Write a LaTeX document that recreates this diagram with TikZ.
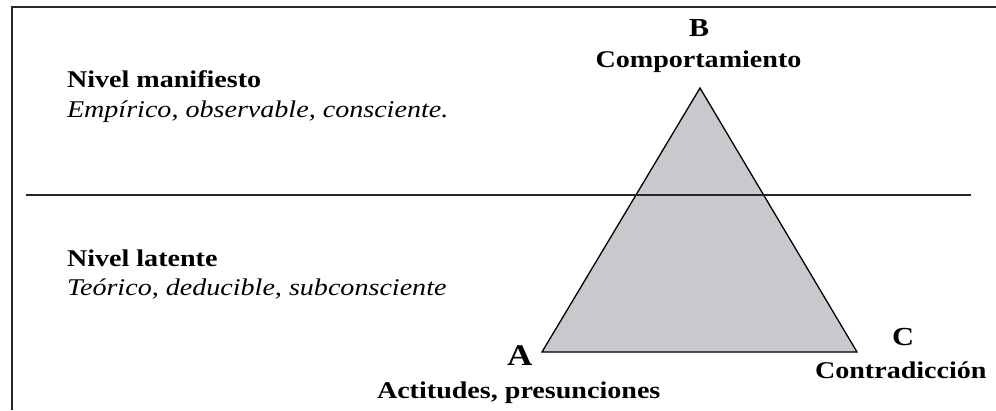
\documentclass[tikz,border=0pt]{standalone}
\usepackage{fontspec}
\setmainfont[FakeStretch=1.17]{Liberation Serif}
\usepackage{tikz}
\usetikzlibrary{positioning}
\definecolor{trifill}{RGB}{200,201,204}
\definecolor{linegray}{RGB}{40,40,40}

\begin{document}
\begin{tikzpicture} [
		x=1pt, y=1pt,
		every node/.style={inner sep=0pt, outer sep=0pt, anchor=base west,
			font=\fontsize{24}{28}\selectfont},
		level/.style={font=\fontsize{24}{28}\selectfont\bfseries},
		levdesc/.style={font=\fontsize{24}{28}\selectfont\itshape},
		vlabel/.style={font=\fontsize{24}{28}\selectfont\bfseries},
		vletter/.style={font=\fontsize{26}{30}\selectfont\bfseries},
		bigletter/.style={font=\fontsize{30}{34}\selectfont\bfseries},
		frame/.style={draw=linegray, line width=1.2pt},
		tri/.style={draw=black, fill=trifill, line width=1.3pt, line join=miter},
		divide/.style={draw=black!85, line width=1.6pt}
	]
	\useasboundingbox (0,0) rectangle (996,410);
	\path [frame] (12,0) -- (12,403) -- (996,403);

	\coordinate (va) at (542,58);
	\coordinate (vb) at (700,322);
	\coordinate (vc) at (857,58);
	\path [tri] (va) -- (vb) -- (vc) -- cycle;

	\coordinate (divl) at (26,215);
	\coordinate (divr) at (971,215);
	\path [divide] (divl) -- (divr);

	\node (man) [level] at (67,322) {Nivel manifiesto};
	\node (mandesc) [levdesc] at (67,292) {Empírico, observable, consciente.};
	\node (lat) [level] at (67,143) {Nivel latente};
	\node (latdesc) [levdesc] at (67,114) {Teórico, deducible, subconsciente};

	\node (lblb) [vlabel, anchor=base] at (698.5,342) {Comportamiento};
	\node (letb) [vletter, anchor=base] at (699,373) {B};
	\node (leta) [bigletter] at (507,45) {A};
	\node (lbla) [vlabel] at (377,12) {Actitudes, presunciones};
	\node (letc) [vletter] at (892,65) {C};
	\node (lblc) [vlabel] at (815,32) {Contradicción};

\end{tikzpicture}
\end{document}
